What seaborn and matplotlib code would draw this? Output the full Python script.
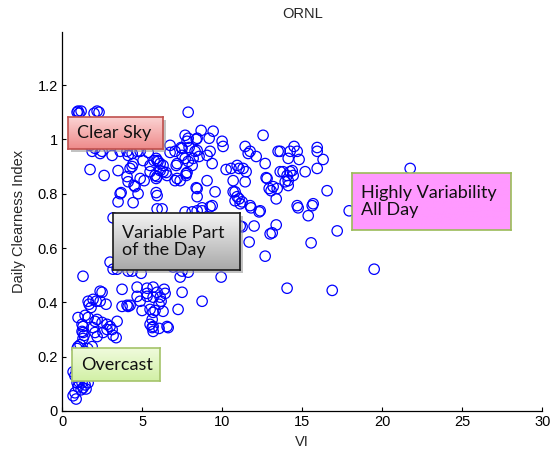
import numpy as np
import pandas as pd
import matplotlib
matplotlib.use("Agg")
import matplotlib.pyplot as plt
from matplotlib.colors import LinearSegmentedColormap
from matplotlib.patches import Rectangle
import seaborn as sns

# Daily variability index (VI) and daily clearness index for ORNL
vi = [
    1.0, 1.19, 1.06, 0.94, 2.19, 2.31, 2.0, 7.88,
    1.75, 2.06, 2.5, 1.88, 2.38, 3.13, 3.63, 4.06, 4.38, 4.88, 5.38, 5.94, 4.13, 4.69, 5.06,
    1.5, 2.5, 3.2, 4.0, 2.8, 1.3, 3.6,
    1.75, 2.63, 3.5, 3.5, 3.69, 4.06, 4.13, 4.25, 4.44, 4.56, 4.44, 4.38, 4.88, 5.5, 5.94,
    4.5, 3.63, 4.75, 5.94, 5.13, 5.75, 5.81, 5.88, 5.88, 6.0, 6.13, 6.31, 6.56, 6.75, 6.75,
    7.06, 7.06, 7.13, 7.38, 7.5, 7.5, 7.69, 7.75, 7.81, 7.88, 7.88, 8.13, 8.19, 8.31, 8.44,
    8.44, 8.44, 8.69, 9.06, 9.06, 9.19, 9.25, 9.38, 9.44, 9.56, 9.25, 8.75, 10.0, 10.06,
    10.25, 10.56, 10.69, 10.94, 11.06, 10.81, 10.94, 11.06, 11.25, 11.5, 11.44, 11.63, 11.75,
    11.44, 11.81, 12.13, 12.38, 12.56, 12.69, 12.81, 12.94, 13.06, 13.19, 13.38, 13.5, 13.63,
    13.44, 12.75, 11.31,
    8.38, 7.44, 7.94, 8.44, 7.69, 8.56, 5.88, 6.13, 7.19, 5.5, 6.31, 6.5, 7.81, 7.19, 7.75,
    8.38, 10.69, 6.25, 8.75, 9.38,
    13.63, 14.13, 14.25, 14.5, 14.69, 14.81, 15.94, 15.94, 16.31, 13.81, 14.06, 14.25, 14.44,
    13.94, 14.13, 15.19, 15.94, 16.56, 14.75, 15.63, 15.69, 15.38, 17.94, 21.75, 14.38, 14.13,
    11.75, 14.69,
    11.13, 12.31, 11.13, 12.0, 13.38, 13.0, 13.13, 17.19, 11.69, 15.56, 12.69, 19.5, 14.06, 16.88,
    19.0, 18.5,
    5.94, 7.69, 8.13, 8.44, 10.81, 10.13, 10.81, 11.25, 6.94, 9.94, 3.19,
    4.5, 5.5, 6.5, 7.5, 8.5, 9.0, 6.0, 10.0, 4.0, 7.0, 8.0, 5.0,
    3.0, 3.19, 3.44, 4.38, 4.94, 1.31, 3.75, 4.69, 4.69, 5.31, 5.69, 6.38, 6.13, 6.19, 6.06,
    5.69, 6.44, 7.5, 8.75, 7.5, 7.88, 7.38, 7.25, 5.0, 4.06, 4.25, 5.81, 6.31, 5.63, 5.69,
    6.06, 6.56, 6.63, 1.94, 2.38, 2.38, 2.5, 1.69, 1.81, 2.75, 1.63, 2.06, 3.44, 2.81, 2.81,
    3.0, 1.25, 1.31, 1.25, 1.31, 2.19, 3.38, 1.13, 1.0, 0.94, 1.88, 1.63, 2.13, 3.75, 4.13,
    4.88, 5.5, 5.69, 1.44, 1.0, 2.19, 2.5, 1.94, 2.06, 3.13, 1.38, 1.31, 2.56, 3.19, 5.5, 5.63,
    5.69, 4.13, 5.31, 5.94, 5.31,
    0.69, 0.94, 1.0, 1.25, 1.44, 1.63, 1.31, 1.5, 1.19, 0.81, 0.69, 0.88, 1.06,
    0.9, 1.1, 1.2, 1.0, 1.4, 0.8, 1.3, 1.6,
]
clearness = [
    1.104, 1.104, 1.096, 1.10, 1.104, 1.10, 1.096, 1.10,
    0.978, 0.967, 0.956, 0.956, 0.948, 0.941, 0.956, 0.956, 0.948, 0.956, 0.952, 0.922, 0.941, 0.956, 0.922,
    1.02, 1.0, 0.99, 1.01, 1.05, 1.06, 1.03,
    0.889, 0.867, 0.885, 0.77, 0.804, 0.863, 0.844, 0.893, 0.911, 0.826, 0.767, 0.90, 0.856, 0.881, 0.863,
    0.83, 0.80, 0.80, 0.793, 0.848, 0.922, 0.867, 0.856, 0.804, 0.919, 0.885, 0.904, 0.867, 0.978, 0.952,
    0.956, 0.848, 0.904, 0.848, 0.967, 0.941, 1.015, 0.874, 0.993, 1.004, 0.919, 0.904, 0.93, 0.956, 1.004,
    0.819, 0.789, 1.033, 0.941, 0.848, 1.004, 0.956, 0.911, 1.03, 0.807, 0.752, 0.737, 0.993, 0.974,
    0.889, 0.893, 0.848, 0.904, 0.893, 0.807, 0.789, 0.781, 0.77, 0.881, 0.974, 0.948, 0.956,
    0.844, 0.748, 0.937, 0.737, 1.015, 0.911, 0.856, 0.819, 0.811, 0.826, 0.781, 0.956, 0.881,
    0.819, 0.859, 0.893,
    1.0, 0.97, 0.97, 0.959, 0.93, 0.937, 0.93, 0.911, 0.911, 0.904, 0.881, 0.878, 0.878, 0.856, 0.867,
    0.822, 0.807, 0.744, 0.748, 0.756,
    0.956, 0.93, 0.956, 0.974, 0.956, 0.926, 0.97, 0.956, 0.926, 0.881, 0.867, 0.881, 0.867,
    0.844, 0.83, 0.881, 0.893, 0.811, 0.748, 0.756, 0.763, 0.719, 0.737, 0.893, 0.885, 0.848,
    0.756, 0.756,
    0.763, 0.733, 0.681, 0.681, 0.685, 0.652, 0.656, 0.663, 0.622, 0.619, 0.57, 0.522, 0.452, 0.444,
    0.80, 0.70,
    0.744, 0.733, 0.733, 0.737, 0.774, 0.681, 0.678, 0.678, 0.53, 0.493, 0.711,
    0.62, 0.68, 0.60, 0.65, 0.70, 0.60, 0.56, 0.62, 0.58, 0.70, 0.57, 0.70,
    0.548, 0.522, 0.522, 0.515, 0.507, 0.496, 0.448, 0.456, 0.422, 0.433, 0.456, 0.448, 0.419, 0.404, 0.393,
    0.419, 0.433, 0.437, 0.404, 0.515, 0.511, 0.493, 0.374, 0.37, 0.389, 0.389, 0.37, 0.367, 0.337, 0.311,
    0.304, 0.311, 0.307, 0.411, 0.404, 0.441, 0.437, 0.393, 0.381, 0.393, 0.344, 0.33, 0.33, 0.319, 0.30,
    0.311, 0.319, 0.311, 0.293, 0.289, 0.274, 0.27, 0.244, 0.237, 0.23, 0.237, 0.404, 0.404, 0.385, 0.385,
    0.404, 0.374, 0.363, 0.352, 0.344, 0.337, 0.326, 0.307, 0.289, 0.30, 0.278, 0.267, 0.289, 0.278, 0.319, 0.307,
    0.293, 0.515, 0.452, 0.437, 0.422,
    0.144, 0.104, 0.089, 0.104, 0.096, 0.104, 0.085, 0.081, 0.078, 0.067, 0.056, 0.044, 0.107,
    0.15, 0.18, 0.21, 0.20, 0.22, 0.13, 0.16, 0.23,
]

x_ticks = [0, 5, 10, 15, 20, 25, 30]
y_ticks = [0, 0.2, 0.4, 0.6, 0.8, 1.0, 1.2]
y_tick_labels = ["0", "0.2", "0.4", "0.6", "0.8", "1", "1.2"]

df = pd.DataFrame({"VI": vi, "Daily Clearness Index": clearness})

sns.set_theme(style="ticks")
plt.rcParams["font.family"] = ["Liberation Sans", "DejaVu Sans"]
plt.rcParams["xtick.direction"] = "in"
plt.rcParams["ytick.direction"] = "in"

fig = plt.figure(figsize=(5.59, 4.5), dpi=100)
ax = fig.add_axes([0.111, 0.0867, 0.859, 0.842])

sns.scatterplot(data=df, x="VI", y="Daily Clearness Index", ax=ax,
                marker="o", s=56, facecolor="none", edgecolor="#0000ff",
                linewidth=0.9, legend=False)
for coll in ax.collections:
    coll.set_facecolor("none")
    coll.set_edgecolor("#0000ff")

ax.set_xlim(0, 30)
ax.set_ylim(0, 1.395)
ax.set_xticks(x_ticks)
ax.set_xticklabels([str(t) for t in x_ticks])
ax.set_yticks(y_ticks)
ax.set_yticklabels(y_tick_labels)
ax.tick_params(axis="both", length=3, width=0.8, labelsize=10.5, colors="black", pad=3)
for side in ("top", "right"):
    ax.spines[side].set_visible(False)
for side in ("left", "bottom"):
    ax.spines[side].set_color("black")
    ax.spines[side].set_linewidth(0.9)
ax.set_xlabel("VI", fontsize=10.5, labelpad=4)
ax.set_ylabel("Daily Clearness Index", fontsize=10.5, labelpad=8)
ax.set_title("ORNL", fontsize=10.5, pad=10)

# Annotation boxes with gradient fills
W, H = 559.0, 450.0
boxes = [
    dict(px=(68, 117, 163, 149), text="Clear Sky", top="#fbd3d3", bottom="#ee8a8a",
         edge="#c0504d", shadow=True),
    dict(px=(113, 213, 240, 270), text="Variable Part\nof the Day", top="#f4f4f4",
         bottom="#a9a9a9", edge="#1a1a1a", shadow=True),
    dict(px=(352, 173, 511, 230), text="Highly Variability\nAll Day", top="#ff99ff",
         bottom="#ff99ff", edge="#9bbb59", shadow=False),
    dict(px=(72, 348, 160, 381), text="Overcast", top="#effbdc", bottom="#d2f0a6",
         edge="#a4c36a", shadow=False),
]
for b in boxes:
    x0, y0, x1, y1 = b["px"]
    rect = [x0 / W, 1 - y1 / H, (x1 - x0) / W, (y1 - y0) / H]
    if b["shadow"]:
        fig.patches.append(Rectangle((rect[0] + 2.5 / W, rect[1] - 2.5 / H), rect[2], rect[3],
                                     transform=fig.transFigure, facecolor="#9a9a9a",
                                     edgecolor="none", alpha=0.6, zorder=1))
    bax = fig.add_axes(rect, zorder=3)
    cmap = LinearSegmentedColormap.from_list("grad", [b["bottom"], b["top"]])
    grad = np.linspace(0, 1, 64).reshape(-1, 1)
    bax.imshow(grad, aspect="auto", cmap=cmap, origin="lower", extent=[0, 1, 0, 1])
    bax.set_xticks([])
    bax.set_yticks([])
    for sp in bax.spines.values():
        sp.set_color(b["edge"])
        sp.set_linewidth(1.2)
    bax.text(9.0 / (x1 - x0), 0.5, b["text"], transform=bax.transAxes, ha="left",
             va="center", fontsize=13, family=["Lato", "DejaVu Sans"], color="#111111",
             linespacing=1.1)

fig.savefig("out.png", dpi=100)
